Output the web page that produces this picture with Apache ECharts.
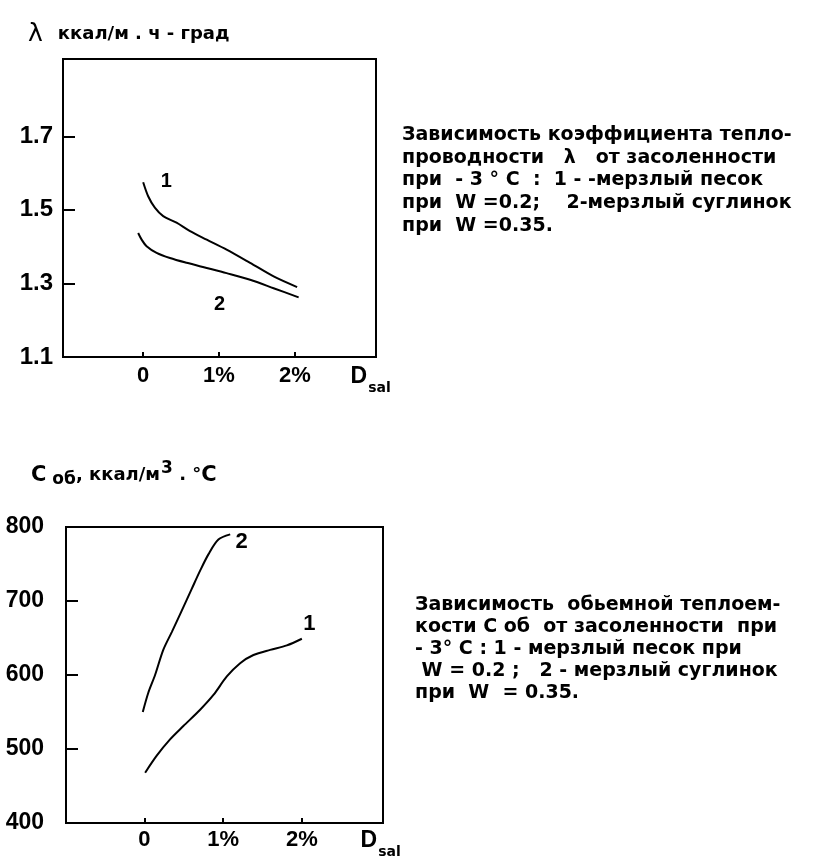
<!DOCTYPE html>
<html>
<head>
<meta charset="utf-8">
<script src="https://cdn.jsdelivr.net/npm/echarts@6/dist/echarts.min.js"></script>
<style>
html,body{margin:0;padding:0;background:#fff;}
#c{width:815px;height:859px;}
</style>
</head>
<body>
<div id="c"></div>
<script>
// ---- Data ----
// Top chart: thermal conductivity lambda vs salinity D_sal (%)
const lamSandX = [0, 0.066, 0.154, 0.264, 0.44, 0.618, 0.838, 1.1, 1.41, 1.72, 2.03];
const lamSandY = [1.575, 1.537, 1.506, 1.483, 1.465, 1.442, 1.419, 1.392, 1.356, 1.319, 1.290];
const lamLoamX = [-0.066, -0.02, 0.045, 0.177, 0.353, 0.573, 0.838, 1.1, 1.41, 1.72, 2.05];
const lamLoamY = [1.437, 1.419, 1.401, 1.383, 1.369, 1.356, 1.342, 1.328, 1.310, 1.287, 1.262];
const lamTickLabels = [1.1, 1.3, 1.5, 1.7];
const lamTicks = [1.3, 1.5, 1.7];
const lamCurveLabels = [[0.313, 1.575, '1'], [1.013, 1.242, '2']];

// Bottom chart: volumetric heat capacity C vs salinity
const capSandX = [0.01, 0.157, 0.326, 0.495, 0.708, 0.877, 1.047, 1.216, 1.385, 1.597, 1.809, 2.0];
const capSandY = [468, 491, 513, 531, 553, 573, 598, 616, 627, 634, 640, 649];
const capLoamX = [-0.02, 0.05, 0.136, 0.24, 0.348, 0.475, 0.6, 0.708, 0.813, 0.94, 1.09];
const capLoamY = [550, 576, 600, 634, 658, 687, 716, 741, 763, 783, 790];
const capTickLabels = [400, 500, 600, 700, 800];
const capTicks = [500, 600, 700];
const capCurveLabels = [[2.1, 669, '1'], [1.24, 779, '2']];

const xTickValues = [0, 1, 2];
const xLabelValues = [0, 1, 2, 3];
const xLabelText = ['0', '1%', '2%', 'D'];

const title1 = 'ккал/м . ч - град';
const text1 = [
  'Зависимость коэффициента тепло-',
  'проводности   λ   от засоленности',
  'при  - 3 ° С  :  1 - -мерзлый песок',
  'при  W =0.2;    2-мерзлый суглинок',
  'при  W =0.35.'
];
const text2 = [
  'Зависимость  обьемной теплоем-',
  'кости С об  от засоленности  при',
  '- 3° С : 1 - мерзлый песок при',
  ' W = 0.2 ;   2 - мерзлый суглинок',
  'при  W  = 0.35.'
];

// ---- Chart ----
const numFont = '"Liberation Sans", Arial, sans-serif';
const txtFont = '"DejaVu Sans", sans-serif';

function pairs(xs, ys) { return xs.map((x, i) => [x, ys[i]]); }

function xFormatter(v) {
  const i = xLabelValues.indexOf(Math.round(v * 1000) / 1000);
  if (i === 3) return '{d|D}{s|sal}';
  return i >= 0 ? xLabelText[i] : '';
}

function makeXAxis(gridIndex, min, max, margin) {
  return {
    type: 'value', gridIndex, min, max,
    axisLine: { show: false, onZero: false },
    splitLine: { show: false },
    axisTick: { show: true, inside: true, length: 5, customValues: xTickValues,
      lineStyle: { color: '#000', width: 2 } },
    axisLabel: { show: true, customValues: xLabelValues, margin,
      formatter: xFormatter,
      color: '#000', fontFamily: numFont, fontWeight: 'bold', fontSize: 22,
      rich: {
        d: { fontFamily: numFont, fontWeight: 'bold', fontSize: 23, color: '#000', verticalAlign: 'top', lineHeight: 22 },
        s: { fontFamily: txtFont, fontWeight: 'bold', fontSize: 14, color: '#000', verticalAlign: 'bottom', lineHeight: 13, padding: [0, 0, -8, 1] }
      }
    }
  };
}

function makeYAxis(gridIndex, min, max, labels, ticks, fmt, margin, fs) {
  return {
    type: 'value', gridIndex, min, max,
    axisLine: { show: false, onZero: false },
    splitLine: { show: false },
    axisTick: { show: true, inside: true, length: 12, customValues: ticks,
      lineStyle: { color: '#000', width: 2 } },
    axisLabel: { show: true, customValues: labels, margin, formatter: fmt,
      color: '#000', fontFamily: numFont, fontWeight: 'bold', fontSize: fs }
  };
}

function lineSeries(xi, yi, data) {
  return {
    type: 'line', xAxisIndex: xi, yAxisIndex: yi, data,
    smooth: 0.3, symbol: 'none',
    lineStyle: { color: '#000', width: 2 },
    silent: true
  };
}

function labelSeries(xi, yi, labs, fs) {
  return {
    type: 'scatter', xAxisIndex: xi, yAxisIndex: yi,
    data: labs.map(l => ({ value: [l[0], l[1]], name: l[2] })),
    symbolSize: 1, silent: true,
    itemStyle: { color: '#000', opacity: 0 },
    emphasis: { disabled: true },
    label: { show: true, position: [0, 0], align: 'center', verticalAlign: 'middle',
      formatter: p => p.name, opacity: 1,
      color: '#000', textBorderWidth: 0, fontFamily: numFont, fontWeight: 'bold', fontSize: fs }
  };
}

const chart = echarts.init(document.getElementById('c'), null, { renderer: 'canvas' });
chart.setOption({
  backgroundColor: '#fff',
  animation: false,
  title: [
    { left: 23, top: 17, text: '{l|λ}   {t|' + title1 + '}',
      textStyle: { rich: {
        l: { fontFamily: txtFont, fontWeight: 'normal', fontSize: 25, color: '#000' },
        t: { fontFamily: txtFont, fontWeight: 'bold', fontSize: 18, color: '#000' }
      } } },
    { left: 26, top: 455, text: '{c|С}{sub| об}{m|, ккал/м}{sup|3}{m| . °}{c|С}',
      textStyle: { rich: {
        c: { fontFamily: txtFont, fontWeight: 'bold', fontSize: 21, color: '#000' },
        sub: { fontFamily: txtFont, fontWeight: 'bold', fontSize: 17, color: '#000', padding: [0, 0, -8, 0] },
        m: { fontFamily: txtFont, fontWeight: 'bold', fontSize: 18, color: '#000' },
        sup: { fontFamily: txtFont, fontWeight: 'bold', fontSize: 17, color: '#000', padding: [0, 0, 14, 1] }
      } } },
    { left: 397, top: 119, text: text1.join('\n'),
      textStyle: { fontFamily: txtFont, fontWeight: 'bold', fontSize: 19, lineHeight: 22.6, color: '#000' } },
    { left: 410, top: 589, text: text2.join('\n'),
      textStyle: { fontFamily: txtFont, fontWeight: 'bold', fontSize: 19, lineHeight: 22, color: '#000' } }
  ],
  grid: [
    { left: 63, top: 59, width: 313, height: 298, show: true, borderColor: '#000', borderWidth: 2, backgroundColor: 'transparent' },
    { left: 66, top: 527, width: 317, height: 301, show: true, borderColor: '#000', borderWidth: 2, backgroundColor: 'transparent' }
  ],
  xAxis: [
    makeXAxis(0, -1.057, 3.07, 8),
    makeXAxis(1, -0.995, 3.03, 6)
  ],
  yAxis: [
    makeYAxis(0, 1.1, 1.91, lamTickLabels, lamTicks, v => v.toFixed(1), 10, 24),
    makeYAxis(1, 400, 800, capTickLabels, capTicks, v => String(Math.round(v)), 22, 23)
  ],
  series: [
    lineSeries(0, 0, pairs(lamSandX, lamSandY)),
    lineSeries(0, 0, pairs(lamLoamX, lamLoamY)),
    labelSeries(0, 0, lamCurveLabels, 20),
    lineSeries(1, 1, pairs(capSandX, capSandY)),
    lineSeries(1, 1, pairs(capLoamX, capLoamY)),
    labelSeries(1, 1, capCurveLabels, 22)
  ]
});
</script>
</body>
</html>
